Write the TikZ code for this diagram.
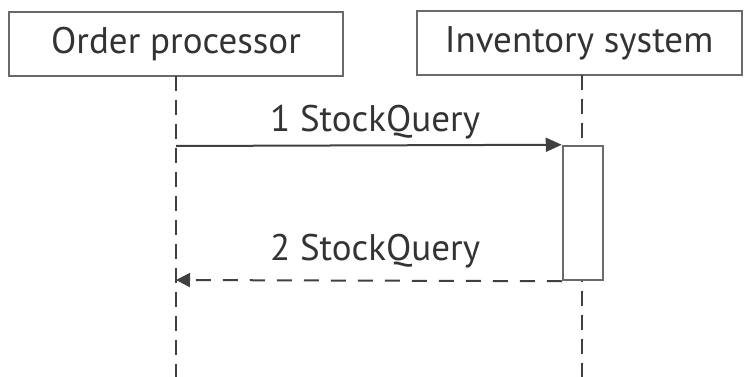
\documentclass[tikz,border=0pt]{standalone}
\usepackage{fontspec}
\setmainfont{PT Sans}
\usetikzlibrary{arrows.meta}
\definecolor{ln}{HTML}{404040}
\definecolor{tx}{HTML}{333333}
\definecolor{bx}{HTML}{6A6A6A}
\tikzset{
  x=1pt,y=-1pt,
  actor/.style={draw=bx,line width=2pt,fill=white,minimum height=64pt,inner sep=0pt,font=\fontsize{37}{42}\selectfont,text=tx},
  lifeline/.style={draw=ln,line width=2.2pt,dash pattern=on 15pt off 9pt},
  msg/.style={draw=ln,line width=2pt,-{Triangle[length=16pt,width=14pt]}},
  reply/.style={draw=ln,line width=2pt,dash pattern=on 15pt off 12pt,-{Triangle[length=14pt,width=14pt]}},
  act/.style={draw=bx,line width=2.5pt,fill=white},
  lbl/.style={font=\fontsize{37}{42}\selectfont,text=tx,inner sep=0pt}
}
\begin{document}
\begin{tikzpicture}
\useasboundingbox (0,0) rectangle (744,377);
\node[actor,minimum width=334pt] (op) at (176,44) {Order processor};
\node[actor,minimum width=325pt] (inv) at (579,43) {Inventory system};
\coordinate (opEnd) at (176,377);
\coordinate (invEnd) at (582,377);
\draw[lifeline] (176,76) -- (opEnd);
\draw[lifeline] (582,75) -- (invEnd);
\node[act,minimum width=40pt,minimum height=134pt,inner sep=0pt] (a) at (583,213) {};
\coordinate (m1) at (176,146);
\coordinate (m2) at (176,280);
\draw[msg] (m1) -- (a.north west);
\draw[reply] (a.south west) -- (m2);
\node[lbl] (l1) at (375,122) {1 StockQuery};
\node[lbl] (l2) at (375,251) {2 StockQuery};
\end{tikzpicture}
\end{document}
